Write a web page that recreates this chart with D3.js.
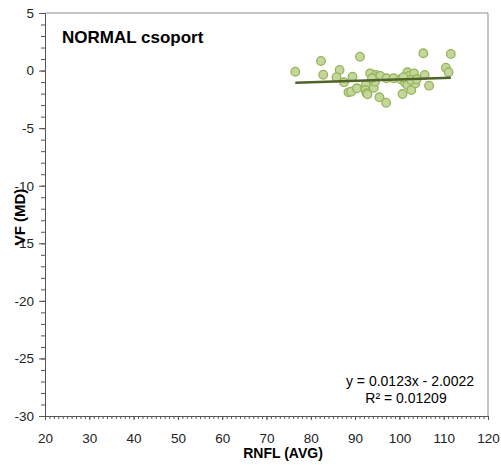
<!DOCTYPE html>
<html>
<head>
<meta charset="utf-8">
<script src="https://d3js.org/d3.v7.min.js"></script>
<style>
  body { margin: 0; background: #fff; }
  text { font-family: "Liberation Sans", Arial, sans-serif; }
</style>
</head>
<body>
<svg id="chart" width="501" height="465"></svg>
<script>
// RNFL (AVG) vs VF (MD), normal group
const rnfl = [76.5, 82.3, 82.8, 86.5, 85.8, 87.5, 89.4, 91.1, 88.5, 89.1, 90.4, 92.4, 92.3, 92.6, 92.8,
  93.4, 94.2, 94.7, 95.1, 95.7, 94.5, 95.5, 97.0, 97.1, 98.7, 100.3, 100.7, 101.8, 102.2, 101.3,
  101.8, 102.7, 103.3, 103.6, 102.6, 105.4, 105.7, 106.7, 110.5, 111.1, 111.6, 103.9, 100.9, 93.8];
const vfmd = [-0.1, 0.83, -0.36, 0.05, -0.58, -1.02, -0.53, 1.2, -1.89, -1.83, -1.54, -1.25, -1.69, -1.97, -2.06,
  -0.24, -1.49, -0.38, -0.53, -0.47, -0.96, -2.32, -2.79, -0.67, -0.67, -0.76, -2.04, -0.15, -0.47, -1.05,
  -1.25, -1.69, -0.24, -1.11, -0.82, 1.5, -0.38, -1.31, 0.25, -0.15, 1.44, -0.76, -0.58, -0.67];
const slope = 0.0123, intercept = -2.0022;
const xTicks = [20, 30, 40, 50, 60, 70, 80, 90, 100, 110, 120];
const yTicks = [5, 0, -5, -10, -15, -20, -25, -30];

const svg = d3.select("#chart");
const mLeft = 45, mRight = 488, mTop = 13, mBottom = 416;

const x = d3.scaleLinear().domain([20, 120]).range([mLeft, mRight]);
const y = d3.scaleLinear().domain([-30, 5]).range([mBottom, mTop]);

// frame (top + right)
svg.append("path")
  .attr("d", `M${mLeft},${mTop}H${mRight}V${mBottom}`)
  .attr("fill", "none").attr("stroke", "#8c8c8c").attr("stroke-width", 1);

// y axis
const yMinor = d3.range(-30, 6, 1);
svg.append("g").attr("transform", `translate(${mLeft},0)`)
  .call(d3.axisLeft(y).tickValues(yMinor).tickSize(4).tickFormat(""))
  .call(g => g.select(".domain").remove())
  .call(g => g.selectAll("line").attr("stroke", "#555"));
svg.append("g").attr("transform", `translate(${mLeft},0)`)
  .call(d3.axisLeft(y).tickValues(yTicks).tickSize(6).tickPadding(5))
  .call(g => g.select(".domain").attr("stroke", "#555"))
  .call(g => g.selectAll("line").attr("stroke", "#555"))
  .call(g => g.selectAll("text").attr("font-size", 13.5).attr("fill", "#222")
    .text(d => d < 0 ? "-" + Math.abs(d) : d));

// x axis
const xMinor = d3.range(20, 121, 1);
svg.append("g").attr("transform", `translate(0,${mBottom})`)
  .call(d3.axisBottom(x).tickValues(xMinor).tickSize(3).tickFormat(""))
  .call(g => g.select(".domain").remove())
  .call(g => g.selectAll("line").attr("stroke", "#555"));
svg.append("g").attr("transform", `translate(0,${mBottom})`)
  .call(d3.axisBottom(x).tickValues(xTicks).tickSize(4).tickPadding(13))
  .call(g => g.select(".domain").attr("stroke", "#555"))
  .call(g => g.selectAll("line").attr("stroke", "#555"))
  .call(g => g.selectAll("text").attr("font-size", 13.5).attr("fill", "#222"));

// points
const pts = rnfl.map((v, i) => [v, vfmd[i]]);
svg.append("g").selectAll("circle").data(pts).join("circle")
  .attr("cx", d => x(d[0])).attr("cy", d => y(d[1])).attr("r", 4.3)
  .attr("fill", "#c3d69b").attr("stroke", "#98b45a").attr("stroke-width", 1.3);

// trend line
const x0 = d3.min(rnfl), x1 = d3.max(rnfl);
svg.append("line")
  .attr("x1", x(x0)).attr("y1", y(slope * x0 + intercept))
  .attr("x2", x(x1)).attr("y2", y(slope * x1 + intercept))
  .attr("stroke", "#4f6228").attr("stroke-width", 2.6);

// texts
svg.append("text").attr("x", 62).attr("y", 43)
  .attr("font-size", 17).attr("font-weight", "bold").text("NORMAL csoport");
svg.append("text").attr("x", 474).attr("y", 386).attr("text-anchor", "end")
  .attr("font-size", 14).text("y = 0.0123x - 2.0022");
svg.append("text").attr("x", 406).attr("y", 403).attr("text-anchor", "middle")
  .attr("font-size", 14).text("R² = 0.01209");
svg.append("text").attr("x", 283).attr("y", 458).attr("text-anchor", "middle")
  .attr("font-size", 14).attr("font-weight", "bold").text("RNFL (AVG)");
svg.append("text").attr("transform", "translate(25,217) rotate(-90)").attr("text-anchor", "middle")
  .attr("font-size", 15).attr("font-weight", "bold").text("VF (MD)");
</script>
</body>
</html>
